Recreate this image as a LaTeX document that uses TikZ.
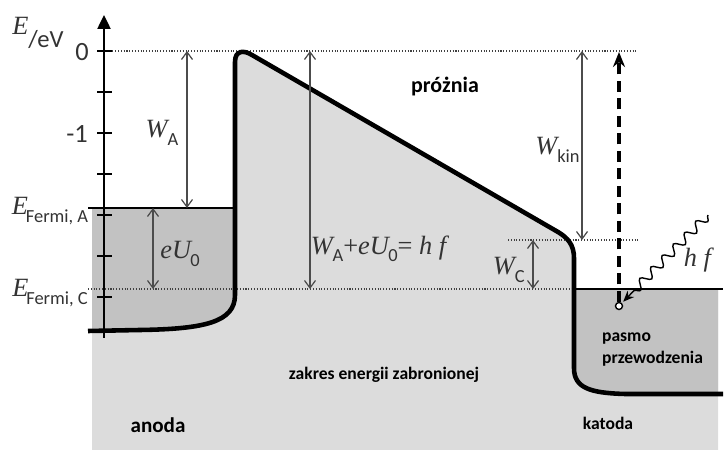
\documentclass[tikz,border=0pt]{standalone}
\usepackage{fontspec}
\setmainfont{Liberation Serif}
\setsansfont{Carlito}
\usetikzlibrary{arrows.meta,decorations.pathmorphing}
\definecolor{gapgray}{HTML}{DCDCDC}
\definecolor{bandgray}{HTML}{C2C2C2}
\newcommand{\idx}[1]{\raisebox{-0.6ex}{\fontsize{10.5}{12}\selectfont\sffamily #1}}
\newcommand{\sym}[2]{\textit{#1}\kern-0.08em\idx{#2}}

\begin{document}
\begin{tikzpicture}
  [x=0.2mm, y=-0.2mm, >={Straight Barb[length=1.5mm,width=2.2mm]},
   every node/.style={font=\fontsize{15}{17}\selectfont, text=black!80, inner sep=1pt},
   band/.style={line width=2.6pt, line join=round},
   level/.style={line width=0.8pt},
   guide/.style={densely dotted, line width=0.6pt, black!75},
   dim/.style={<->, line width=0.7pt, black!70},
   word/.style={font=\fontsize{10}{12.5}\selectfont\sffamily\bfseries, text=black, align=left}]
  \useasboundingbox (0,0) rectangle (728,450);
  % forbidden energy range and the two bands
  \fill[gapgray] (92,450) -- (92,208) -- (235,208) -- (235,62)
    .. controls (235,50) and (244,50) .. (252,55) -- (558,232)
    .. controls (568,238) and (574,245) .. (574,258) -- (574,289)
    -- (718,289) -- (718,450) -- cycle;
  \fill[bandgray] (92,208) -- (235,208) -- (235,295)
    .. controls (235,322) and (205,329) .. (140,330) -- (92,330.5) -- cycle;
  \fill[bandgray] (574,289) -- (718,289) -- (718,394) -- (625,394)
    .. controls (590,393) and (574,388) .. (574,368) -- cycle;
  % guide lines
  \draw[guide] (104,51) -- (638,51);
  \draw[guide] (88,289) -- (574,289);
  \draw[guide] (508,240) -- (638,240);
  \draw[level] (88,208) -- (235,208);
  \draw[level] (574,289) -- (723,289);
  % band edge
  \draw[band] (88,331) -- (140,330) .. controls (205,329) and (235,322) .. (235,295)
    -- (235,62) .. controls (235,50) and (244,50) .. (252,55) -- (558,232)
    .. controls (568,238) and (574,245) .. (574,258) -- (574,368)
    .. controls (574,388) and (590,393) .. (625,394) -- (723,394);
  % energy axis
  \draw[line width=1.4pt, -{Triangle[length=2.8mm,width=2.6mm]}] (104,338) -- (104,15);
  \foreach \y in {51,92,...,297}
    \draw[line width=0.9pt] (97,\y) -- (112,\y);
  \node (zero) at (82,52) {\sffamily 0};
  \node (minus) at (77,134) {\sffamily -1};
  \node (elabel) at (38,33) {\textit{E}\raisebox{-1.1ex}{\fontsize{14}{16}\selectfont\sffamily /eV}};
  \node (efa) at (50,211) {\sym{E}{Fermi, A}};
  \node (efc) at (50,293) {\sym{E}{Fermi, C}};
  % energy differences
  \coordinate (wa0) at (187,51);  \coordinate (wa1) at (187,208);
  \coordinate (eu0) at (153,208); \coordinate (eu1) at (153,289);
  \coordinate (hf0) at (310,51);  \coordinate (hf1) at (310,289);
  \coordinate (wk0) at (582,51);  \coordinate (wk1) at (582,240);
  \coordinate (wc0) at (533,240); \coordinate (wc1) at (533,289);
  \draw[dim] (wa0) -- (wa1);
  \draw[dim] (eu0) -- (eu1);
  \draw[dim] (hf0) -- (hf1);
  \draw[dim] (wk0) -- (wk1);
  \draw[dim] (wc0) -- (wc1);
  \node (wa) at (162,133) {\sym{W}{A}};
  \node (eu) at (180,254) {\textit{eU}\kern-0.08em\idx{0}};
  \node (hf) at (380,249) {\sym{W}{A}+\textit{eU}\kern-0.08em\idx{0}= \textit{h f}};
  \node[anchor=east, inner sep=0pt] (wk) at (580,150) {\sym{W}{kin}};
  \node[anchor=east, inner sep=0pt] (wc) at (525,270) {\sym{W}{C}};
  % photon and electron
  \node[circle, draw=black, fill=white, line width=0.8pt, minimum size=1.4mm, inner sep=0pt] (el) at (619,306) {};
  \coordinate (ph) at (708,215);
  \coordinate (ktop) at (619,52);
  \draw[line width=1.8pt, dash pattern=on 2.2mm off 1.3mm,
    -{Stealth[length=3mm,width=2.4mm]}] (el) -- (ktop);
  \draw[line width=0.8pt, decorate,
    decoration={snake, amplitude=0.9mm, segment length=3.2mm, post length=2.5mm},
    -{Stealth[length=2.2mm,width=1.8mm]}, shorten >=1pt] (ph) -- (el);
  \node (hfph) at (699,260) {\textit{h f}};
  % region names
  \node[word, font=\fontsize{12.5}{15}\selectfont\sffamily\bfseries] (vac) at (445,87) {próżnia};
  \node[word] (gap) at (384,375) {zakres energii zabronionej};
  \node[word, font=\fontsize{12}{15}\selectfont\sffamily\bfseries] (anode) at (158,425) {anoda};
  \node[word] (cathode) at (608,423) {katoda};
  \node[word, anchor=west] (cband) at (600,350) {pasmo\\przewodzenia};
\end{tikzpicture}
\end{document}
